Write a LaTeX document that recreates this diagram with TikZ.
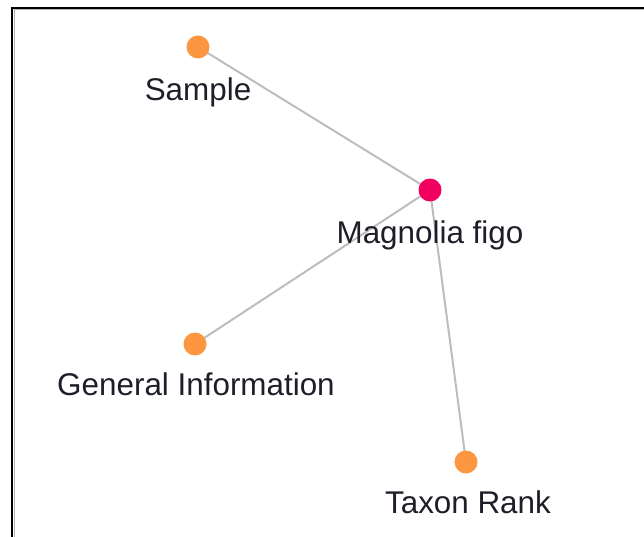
\documentclass[tikz,border=0pt]{standalone}
\usepackage{fontspec}
\setmainfont{Liberation Sans}
\definecolor{leaf}{HTML}{FD9640}
\definecolor{hub}{HTML}{F2005F}
\definecolor{edgegray}{HTML}{BDBDBD}
\definecolor{labelink}{HTML}{1E1E28}
\pgfdeclarelayer{edgelayer}
\pgfsetlayers{edgelayer,main}
\tikzset{
  leafdot/.style={circle,fill=leaf,draw=none,minimum size=23pt,inner sep=0pt},
  hubdot/.style={circle,fill=hub,draw=none,minimum size=23pt,inner sep=0pt},
  lbl/.style={anchor=base,inner sep=0pt,text=labelink,font=\fontsize{31.4}{36}\selectfont},
  link/.style={draw=edgegray,line width=2pt},
  frameline/.style={draw=black,line width=2pt}
}
\begin{document}
\begin{tikzpicture}[x=1pt,y=-1pt]
\useasboundingbox (0,0) rectangle (644,537);
% frame (left and top)
\coordinate (fbl) at (12,537);
\coordinate (ftl) at (12,8);
\coordinate (ftr) at (644,8);
\draw[draw=gray!60,line width=1pt] (14,537) -- (14,10) -- (644,10);
\draw[frameline] (fbl) -- (ftl) -- (ftr);
% nodes
\node[hubdot]  (mag) at (430,190) {};
\node[leafdot] (sam) at (198,47) {};
\node[leafdot] (gen) at (195,344) {};
\node[leafdot] (tax) at (466,462) {};
% edges
\begin{pgfonlayer}{edgelayer}
\draw[link] (sam.center) -- (mag.center);
\draw[link] (gen.center) -- (mag.center);
\draw[link] (tax.center) -- (mag.center);
\end{pgfonlayer}
% labels
\node[lbl] (samlbl) at (198,101) {Sample};
\node[lbl] (maglbl) at (430,243) {Magnolia figo};
\node[lbl] (genlbl) at (196,395) {General Information};
\node[lbl] (taxlbl) at (468,513) {Taxon Rank};
\end{tikzpicture}
\end{document}
